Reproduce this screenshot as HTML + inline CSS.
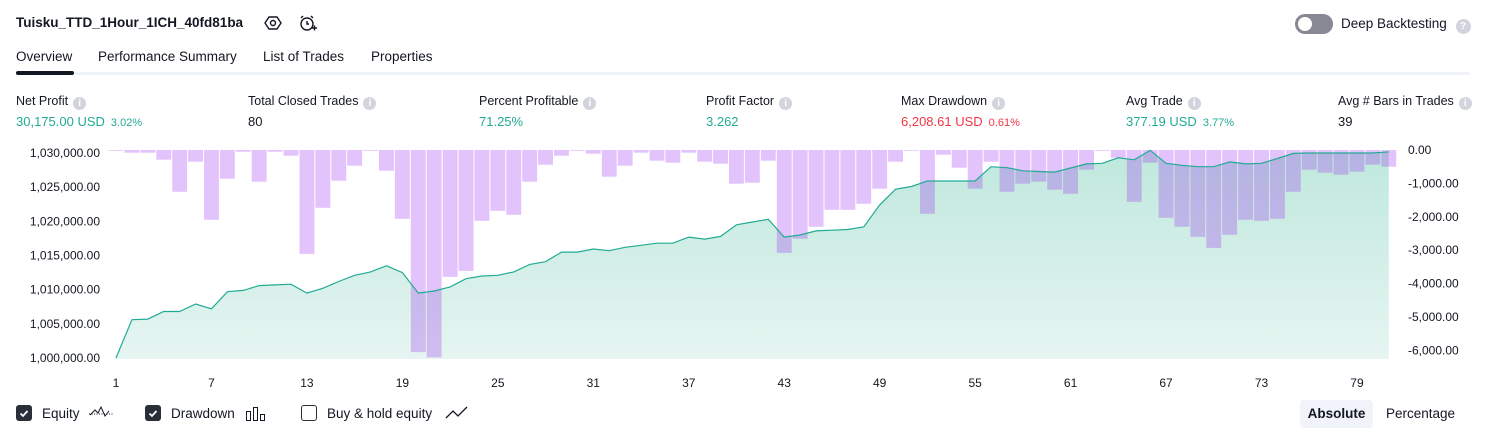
<!DOCTYPE html>
<html><head><meta charset="utf-8"><style>
body{margin:0;width:1486px;height:438px;background:#fff;font-family:"Liberation Sans",sans-serif;color:#131722;overflow:hidden;position:relative}
.a{position:absolute;white-space:nowrap}
.lbl{font-size:12.5px;color:#131722}
.val{font-size:13px}
.g{color:#22ab94}.r{color:#f23645}
.small{font-size:11px;margin-left:6px}
.info{display:inline-block;width:13px;height:13px;border-radius:50%;background:#d1d4dc;color:#fff;font-size:10px;text-align:center;line-height:13px;margin-left:5px;vertical-align:-1px;font-weight:bold}
.tab{font-size:13.5px;top:49px}
.cb{position:absolute;width:16px;height:16px;border-radius:3px;top:405px}
</style></head><body>
<div class="a" style="left:16px;top:15px;font-size:13.5px;font-weight:bold">Tuisku_TTD_1Hour_1ICH_40fd81ba</div>
<svg class="a" style="left:264px;top:14px" width="18" height="18"><polygon points="5,3 13,3 17,9 13,15 5,15 1,9" fill="none" stroke="#131722" stroke-width="1.4"/><circle cx="9" cy="9" r="2.5" fill="none" stroke="#131722" stroke-width="1.4"/></svg>
<svg class="a" style="left:298px;top:14px" width="20" height="20"><circle cx="9" cy="10" r="6" fill="none" stroke="#131722" stroke-width="1.4"/><path d="M9 7v3h2M3 4l2-2M15 4l-2-2M14 14h5M16.5 11.5v5" stroke="#131722" stroke-width="1.4" fill="none"/></svg>
<div class="a" style="left:1295px;top:14px;width:38px;height:20px;border-radius:10px;background:#868993"><div style="position:absolute;left:3px;top:3px;width:14px;height:14px;border-radius:50%;background:#fff"></div></div>
<div class="a" style="left:1341px;top:16px;font-size:13.5px">Deep Backtesting <span class="info" style="width:15px;height:15px;line-height:15px">?</span></div>
<div class="a tab" style="left:16px">Overview</div>
<div class="a tab" style="left:98px">Performance Summary</div>
<div class="a tab" style="left:263px">List of Trades</div>
<div class="a tab" style="left:371px">Properties</div>
<div class="a" style="left:16px;top:72px;width:1454px;height:3px;background:#f0f3fa"></div>
<div class="a" style="left:16px;top:71px;width:58px;height:4px;border-radius:2px;background:#131722"></div>

<div class="a" style="left:16px;top:94px"><div class="lbl">Net Profit<span class="info">i</span></div><div class="val g" style="margin-top:4px">30,175.00 USD<span class="small">3.02%</span></div></div>
<div class="a" style="left:248px;top:94px"><div class="lbl">Total Closed Trades<span class="info">i</span></div><div class="val" style="margin-top:4px">80</div></div>
<div class="a" style="left:479px;top:94px"><div class="lbl">Percent Profitable<span class="info">i</span></div><div class="val g" style="margin-top:4px">71.25%</div></div>
<div class="a" style="left:706px;top:94px"><div class="lbl">Profit Factor<span class="info">i</span></div><div class="val g" style="margin-top:4px">3.262</div></div>
<div class="a" style="left:901px;top:94px"><div class="lbl">Max Drawdown<span class="info">i</span></div><div class="val r" style="margin-top:4px">6,208.61 USD<span class="small">0.61%</span></div></div>
<div class="a" style="left:1126px;top:94px"><div class="lbl">Avg Trade<span class="info">i</span></div><div class="val g" style="margin-top:4px">377.19 USD<span class="small">3.77%</span></div></div>
<div class="a" style="left:1338px;top:94px"><div class="lbl">Avg # Bars in Trades<span class="info">i</span></div><div class="val" style="margin-top:4px">39</div></div>

<svg id="chart" class="a" style="left:0;top:0" width="1486" height="395">
<defs><linearGradient id="gf" x1="0" y1="0" x2="0" y2="1"><stop offset="0" stop-color="#bfe8dd"/><stop offset="1" stop-color="#e6f5f1"/></linearGradient></defs>
</svg>

<div class="cb" style="left:16px;background:#2a2e39"><svg width="16" height="16"><path d="M4.5 8.5l2.5 2.5 4.5-5" stroke="#fff" stroke-width="1.8" fill="none"/></svg></div>
<div class="a" style="left:42px;top:406px;font-size:13.5px">Equity</div>
<svg class="a" style="left:88px;top:404px" width="26" height="18"><path d="M1 10h24" stroke="#131722" stroke-dasharray="1 1.5"/><path d="M2 11l5-5 3 3 3-6 4 9 4-5" stroke="#131722" fill="none"/></svg>
<div class="cb" style="left:145px;background:#2a2e39"><svg width="16" height="16"><path d="M4.5 8.5l2.5 2.5 4.5-5" stroke="#fff" stroke-width="1.8" fill="none"/></svg></div>
<div class="a" style="left:171px;top:406px;font-size:13.5px">Drawdown</div>
<svg class="a" style="left:245px;top:405px" width="22" height="18"><rect x="1.5" y="6.5" width="4" height="9" fill="none" stroke="#131722"/><rect x="8.5" y="2.5" width="4" height="13" fill="none" stroke="#131722"/><rect x="15.5" y="9.5" width="4" height="6" fill="none" stroke="#131722"/></svg>
<div class="cb" style="left:301px;border:1.3px solid #2a2e39;box-sizing:border-box"></div>
<div class="a" style="left:327px;top:406px;font-size:13.5px">Buy &amp; hold equity</div>
<svg class="a" style="left:445px;top:404px" width="24" height="18"><path d="M1 14l7-7 5 5 9-9" stroke="#131722" stroke-width="1.3" fill="none"/></svg>
<div class="a" style="left:1300px;top:400px;width:73px;height:28px;border-radius:4px;background:#f0f3fa;font-size:13.5px;font-weight:bold;text-align:center;line-height:28px">Absolute</div>
<div class="a" style="left:1386px;top:406px;font-size:13.5px">Percentage</div>

<script>
const tradeLabels = [1,7,13,19,25,31,37,43,49,55,61,67,73,79];
const equityK = [0,5.6,5.7,6.8,6.8,7.9,7.2,9.7,9.9,10.6,10.7,10.8,9.5,10.2,11.2,12.1,12.6,13.5,12.5,9.5,9.8,10.4,11.6,12.0,12.1,12.6,13.7,14.1,15.5,15.5,15.95,15.7,16.2,16.5,16.8,16.8,17.7,17.4,17.8,19.5,19.9,20.3,17.7,18.0,18.6,18.7,18.8,19.2,22.4,24.7,25.1,25.9,25.9,25.9,25.9,28.0,27.85,27.4,27.3,27.2,27.8,28.4,28.5,29.3,29.0,30.4,28.5,28.2,28.0,28.0,28.7,28.4,28.5,29.2,29.95,30.0,30.0,30.0,30.0,30.0,30.175];
const drawdown = [-20,-80,-80,-290,-1250,-350,-2090,-860,-50,-950,-50,-170,-3110,-1730,-920,-470,-20,-620,-2060,-6050,-6208.61,-3800,-3620,-2120,-1820,-1940,-950,-440,-170,-20,-110,-800,-470,-80,-320,-380,-80,-350,-410,-1010,-980,-320,-3080,-2660,-2300,-1790,-1790,-1610,-1160,-350,-20,-1910,-140,-530,-1160,-350,-1250,-1010,-950,-1190,-1310,-590,-20,-230,-1550,-380,-2030,-2300,-2600,-2930,-2540,-2090,-2120,-2060,-1250,-590,-680,-740,-650,-440,-500];
const leftTicks = [1000000,1005000,1010000,1015000,1020000,1025000,1030000];
const rightTicks = [0,-1000,-2000,-3000,-4000,-5000,-6000];

const NS='http://www.w3.org/2000/svg';
const svg=document.getElementById('chart');
const pitch=15.91, x0=116;
const xPos=i=>x0+i*pitch;
const yEq=v=>358-(v-1000000)/1000*6.833;
const yDD=v=>150-v/1000*33.4;
function mk(tag,attrs){const e=document.createElementNS(NS,tag);for(const k in attrs)e.setAttribute(k,attrs[k]);svg.appendChild(e);return e;}
const fmt=n=>n.toLocaleString('en-US',{minimumFractionDigits:2,maximumFractionDigits:2});

let pts=equityK.map((v,i)=>[xPos(i),yEq(1000000+v*1000)]);
let d='M'+pts.map(p=>p[0].toFixed(1)+' '+p[1].toFixed(1)).join('L');
const area=mk('path',{d:d+`L${xPos(equityK.length-1)} 359L${xPos(0)} 359Z`,fill:'url(#gf)'});


drawdown.forEach((v,i)=>{
  const b=mk('rect',{x:(xPos(i)-pitch/2+0.5).toFixed(1),y:150,width:(pitch-1).toFixed(1),height:Math.max(0.8,yDD(v)-150).toFixed(1),fill:'rgba(156,39,242,0.28)'});
  
  
});
const line=mk('path',{d:d,fill:'none',stroke:'#22ab94','stroke-width':1.2});


leftTicks.forEach(v=>{
  const t=mk('text',{x:100,y:yEq(v)+4,'text-anchor':'end','font-size':12,fill:'#131722'});
  t.textContent=fmt(v);
  
  
});
rightTicks.forEach(v=>{
  const t=mk('text',{x:1408,y:yDD(v)+4,'font-size':12,fill:'#131722'});
  t.textContent=fmt(v);
  
  
});
tradeLabels.forEach(n=>{
  const t=mk('text',{x:xPos(n-1),y:387,'text-anchor':'middle','font-size':12,fill:'#131722'});
  t.textContent=n;
  
  
});
</script>
</body></html>
